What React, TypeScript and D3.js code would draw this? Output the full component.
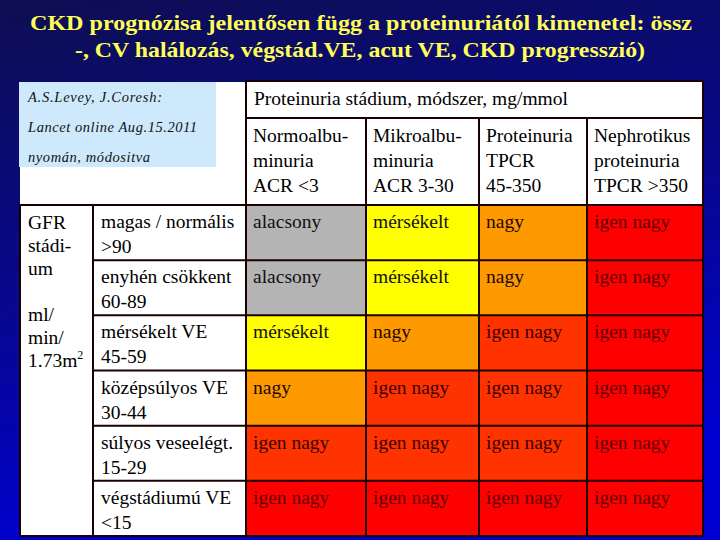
import React from "react";
import * as d3 from "d3";

const titleLines = [
  "CKD prognózisa jelentősen függ a proteinuriától kimenetel:  össz",
  "-, CV halálozás, végstád.VE, acut VE, CKD progresszió)",
];
const sourceLines = ["A.S.Levey, J.Coresh:", "Lancet online Aug.15.2011", "nyomán, módositva"];
const proteinuriaHeader = "Proteinuria stádium, módszer, mg/mmol";
const proteinuriaCategories = [
  ["Normoalbu-", "minuria", "ACR <3"],
  ["Mikroalbu-", "minuria", "ACR 3-30"],
  ["Proteinuria", "TPCR", "45-350"],
  ["Nephrotikus", "proteinuria", "TPCR >350"],
];
const gfrLabel = ["GFR", "stádi-", "um", "", "ml/", "min/", "1.73m"];
const gfrStages = [
  ["magas / normális", ">90"],
  ["enyhén csökkent", "60-89"],
  ["mérsékelt VE", "45-59"],
  ["középsúlyos VE", "30-44"],
  ["súlyos veseelégt.", "15-29"],
  ["végstádiumú VE", "<15"],
];
// risk grade per cell (row = GFR stage, col = proteinuria category)
const riskGrades = [
  [0, 1, 2, 4],
  [0, 1, 2, 4],
  [1, 2, 3, 4],
  [2, 3, 3, 4],
  [3, 3, 3, 4],
  [4, 4, 4, 4],
];
const riskLabels = ["alacsony", "mérsékelt", "nagy", "igen nagy", "igen nagy"];

// styles / layout
const riskColors = ["#b4b4b4", "#ffff00", "#ff9900", "#ff3300", "#ff0000"];
const riskTextColors = ["#111111", "#111111", "#1a0800", "#3a0000", "#5e0000"];
const colWidths = [120, 113, 108, 116];
const sourceWidths = [134, 169, 122];

export default function App() {
  const W = 720, H = 540;
  const tableLeft = 20, gfrRight = 93, descRight = 246, tableRight = 703;
  const top = 81, subTop = 118, bodyTop = 205, bottom = 536;

  const edges = [0, ...d3.cumsum(colWidths)];
  const x = d3.scaleLinear().domain([0, d3.sum(colWidths)]).range([descRight, tableRight]);
  const colX = (i: number) => x(edges[i]);
  const colW = (i: number) => x(edges[i + 1]) - x(edges[i]);
  const y = d3.scaleBand<number>().domain(d3.range(gfrStages.length)).range([bodyTop, bottom]).paddingInner(0);

  const ff = { fontFamily: "Liberation Serif, Times New Roman, serif" };
  const fs = 19.5;
  const lh = 25;
  const line = "#1a0000";
  const sw = 2;

  return (
    <svg width={W} height={H} style={{ position: "absolute", left: 0, top: 0 }}>
      <defs>
        <linearGradient id="bg" x1="0" y1="0" x2="0.25" y2="1">
          <stop offset="0" stopColor="#0e0e52" />
          <stop offset="0.5" stopColor="#08088a" />
          <stop offset="1" stopColor="#0000d2" />
        </linearGradient>
      </defs>
      <rect width={W} height={H} fill="url(#bg)" />

      {/* title */}
      <text x={361} y={30} textAnchor="middle" fill="#ffff55" fontWeight="bold" fontSize={22} style={ff}
        textLength={662} lengthAdjust="spacingAndGlyphs">{titleLines[0]}</text>
      <text x={360} y={57} textAnchor="middle" fill="#ffff55" fontWeight="bold" fontSize={22} style={ff}
        textLength={570} lengthAdjust="spacingAndGlyphs">{titleLines[1]}</text>

      {/* white backgrounds */}
      <rect x={tableLeft} y={82} width={descRight - tableLeft} height={bodyTop - 82} fill="#ffffff" />
      <rect x={descRight} y={top} width={tableRight - descRight} height={bodyTop - top} fill="#ffffff" />
      <rect x={tableLeft} y={bodyTop} width={descRight - tableLeft} height={bottom - bodyTop} fill="#ffffff" />

      {/* source box */}
      <rect x={19} y={82} width={197} height={85} fill="#cde9fb" />
      {sourceLines.map((s, i) => (
        <text key={i} x={28} y={102 + i * 30} fontSize={14.5} fontStyle="italic" fill="#111" style={ff}
          textLength={sourceWidths[i]} lengthAdjust="spacing">{s}</text>
      ))}

      {/* header */}
      <text x={254} y={105} fontSize={fs} fill="#000" style={ff}>{proteinuriaHeader}</text>
      {proteinuriaCategories.map((lines, c) =>
        lines.map((t, k) => (
          <text key={c + "-" + k} x={colX(c) + 7} y={142 + k * lh} fontSize={fs} fill="#000" style={ff}>{t}</text>
        ))
      )}

      {/* risk cells */}
      {riskGrades.map((row, r) =>
        row.map((g, c) => (
          <g key={r + "-" + c}>
            <rect x={colX(c)} y={y(r)!} width={colW(c)} height={y.bandwidth()} fill={riskColors[g]} />
            <text x={colX(c) + 7} y={y(r)! + 23} fontSize={fs} fill={riskTextColors[g]} style={ff}>{riskLabels[g]}</text>
          </g>
        ))
      )}

      {/* GFR stage labels */}
      {gfrStages.map((lines, r) =>
        lines.map((t, k) => (
          <text key={r + "-" + k} x={101} y={y(r)! + 23 + k * lh} fontSize={fs} fill="#000" style={ff}>{t}</text>
        ))
      )}
      {gfrLabel.map((t, k) => (
        <text key={k} x={28} y={229 + k * 23} fontSize={fs} fill="#000" style={ff}>
          {t}
          {k === gfrLabel.length - 1 ? <tspan fontSize={12} dy={-8}>2</tspan> : null}
        </text>
      ))}

      {/* grid lines */}
      <g stroke={line} strokeWidth={sw} fill="none">
        <line x1={descRight} x2={tableRight} y1={top} y2={top} />
        <line x1={descRight} x2={tableRight} y1={subTop} y2={subTop} />
        <line x1={tableLeft} x2={tableRight} y1={bodyTop} y2={bodyTop} />
        <line x1={tableLeft} x2={tableRight} y1={bottom} y2={bottom} />
        <line x1={tableLeft} x2={tableLeft} y1={bodyTop} y2={bottom} />
        <line x1={gfrRight} x2={gfrRight} y1={bodyTop} y2={bottom} />
        <line x1={descRight} x2={descRight} y1={top} y2={bottom} />
        <line x1={tableRight} x2={tableRight} y1={top} y2={bottom} />
        {d3.range(1, colWidths.length).map((c) => (
          <line key={"c" + c} x1={colX(c)} x2={colX(c)} y1={subTop} y2={bottom} />
        ))}
        {d3.range(1, gfrStages.length).map((r) => (
          <line key={"r" + r} x1={gfrRight} x2={tableRight} y1={y(r)!} y2={y(r)!} />
        ))}
      </g>
    </svg>
  );
}
